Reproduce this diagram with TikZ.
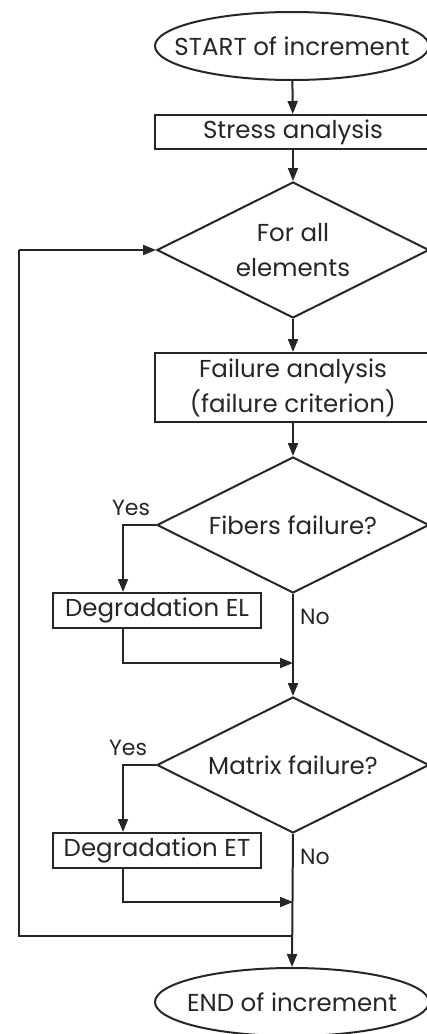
\documentclass[tikz,border=0pt]{standalone}
\usepackage{fontspec}
\setmainfont{Poppins}
\usetikzlibrary{shapes.geometric,arrows.meta}
\begin{document}
\begin{tikzpicture}[x=1pt,y=-1pt,
  every node/.style={font=\fontsize{24.5}{35}\selectfont, inner sep=0pt, text=black!85},
  line/.style={line width=2pt, draw=black!85},
  arr/.style={line, -{Triangle[length=13pt,width=10pt]}},
  term/.style={ellipse, line, inner xsep=-40pt, minimum width=274pt, minimum height=68pt},
  proc/.style={rectangle, line, minimum width=276pt, align=center},
  deg/.style={rectangle, line, minimum width=208pt, minimum height=35pt},
  dec/.style={diamond, line, aspect=2, minimum width=272pt, minimum height=136pt, align=center},
  lab/.style={font=\fontsize{22}{24}\selectfont}
]
\useasboundingbox (0,0) rectangle (427,1034);
\node[term] (start) at (292,46) {START of increment};
\node[proc, minimum height=34pt] (stress) at (293,132) {Stress analysis};
\node[dec] (all) at (293,250) {For all\\elements};
\node[proc, minimum height=69pt] (fail) at (293,387.5) {Failure analysis\\(failure criterion)};
\node[dec] (fib) at (293,525) {Fibers failure?};
\node[deg] (del) at (157,610.5) {Degradation EL};
\node[dec] (mat) at (293,765) {Matrix failure?};
\node[deg] (det) at (157,850.5) {Degradation ET};
\node[term] (end) at (292,1002) {END of increment};

\coordinate (j1) at (293,663);
\coordinate (j2) at (293,902);
\coordinate (j3) at (293,936);
\coordinate (lb) at (19,936);
\coordinate (lt) at (19,250);

\draw[arr] (start) -- (stress);
\draw[arr] (stress) -- (all);
\draw[arr] (all) -- (fail);
\draw[arr] (fail) -- (fib);
\draw[arr] (fib.west) -| ([xshift=-34pt]del.north);
\draw[arr] ([xshift=-34pt]del.south) |- (j1);
\draw[arr] (fib.south) -- (mat.north);
\draw[arr] (mat.west) -| ([xshift=-34pt]det.north);
\draw[arr] ([xshift=-34pt]det.south) |- (j2);
\draw[arr] (mat.south) -- (end.north);
\draw[line] (j3) -- (lb) -- (lt);
\draw[arr] (lt) -- (all.west);

\node[lab] (yes1) at (131,508) {Yes};
\node[lab, anchor=west] (no1) at (300,617) {No};
\node[lab] (yes2) at (128,748) {Yes};
\node[lab, anchor=west] (no2) at (300,857) {No};
\end{tikzpicture}
\end{document}
